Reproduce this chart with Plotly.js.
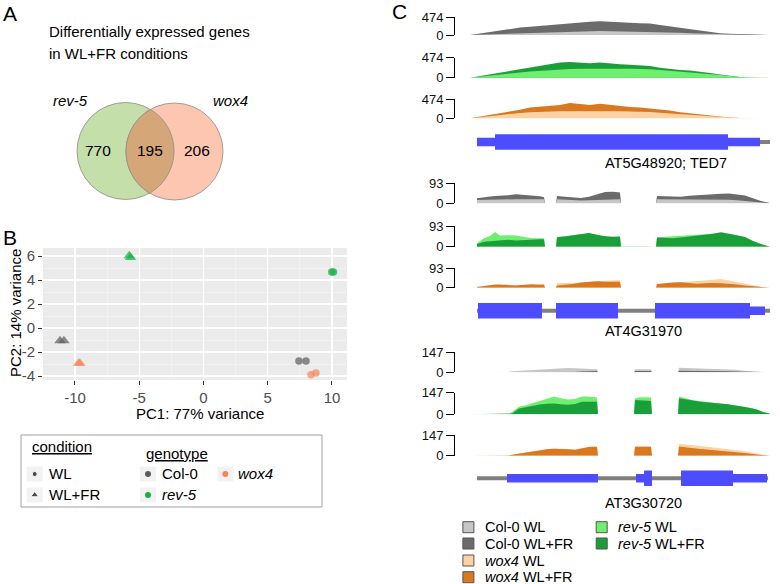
<!DOCTYPE html>
<html><head><meta charset="utf-8">
<script src="https://cdn.plot.ly/plotly-3.0.1.min.js"></script>
<style>html,body{margin:0;padding:0;background:#fff}#chart{width:780px;height:584px}</style>
</head><body><div id="chart"></div>
<script>
// ===== Panel A: Venn diagram =====
const vennSets = ['rev-5', 'wox4'];
const vennCounts = [770, 195, 206]; // rev-5 only, shared, wox4 only
const vennTitle = ['Differentially expressed genes', 'in WL+FR conditions'];

// ===== Panel B: PCA =====
const pcaPC1 = [7.43, 7.98, 9.98, 10.12, 8.37, 8.75, -11.17, -10.86, -5.78, -5.68, -9.72, -9.62];
const pcaPC2 = [-2.75, -2.75, 4.68, 4.68, -3.9, -3.75, -1.06, -1.06, 6.02, 5.88, -2.94, -2.94];
const pcaGenotype = ['Col-0','Col-0','rev-5','rev-5','wox4','wox4','Col-0','Col-0','rev-5','rev-5','wox4','wox4'];
const pcaCondition = ['WL','WL','WL','WL','WL','WL','WL+FR','WL+FR','WL+FR','WL+FR','WL+FR','WL+FR'];
const pcaXTicks = [-10, -5, 0, 5, 10];
const pcaYTicks = [-4, -2, 0, 2, 4, 6];
const conditionLevels = ['WL', 'WL+FR'];
const genotypeLevels = ['Col-0', 'rev-5', 'wox4'];

// ===== Panel C: coverage tracks =====
const seriesNames = ['Col-0 WL', 'Col-0 WL+FR', 'wox4 WL', 'wox4 WL+FR', 'rev-5 WL', 'rev-5 WL+FR'];
const geneNames = ['AT5G48920; TED7', 'AT4G31970', 'AT3G30720'];
const trackMax = [474, 93, 147];

const g1X = [0,10,20,30,40,50,60,70,80,90,100,110,120,130,140,150,160,170,180,190,200,210,220,230,240,250,260,270,280,290,300];
const g1Col0WL = [0,8,16,26,34,40,44,58,74,86,92,96,100,105,100,96,92,90,84,76,68,58,46,36,27,18,12,7,3,0,0];
const g1Col0FR = [0,42,84,120,160,198,218,243,265,290,310,330,352,369,350,338,325,315,305,270,235,200,155,115,80,48,35,22,12,0,0];
const g1Rev5WL = [0,28,52,76,100,124,145,165,185,203,208,212,216,220,218,214,210,206,198,180,162,148,128,108,88,66,40,15,8,3,0];
const g1Rev5FR = [0,40,82,125,160,200,240,290,335,360,372,362,345,362,335,318,305,290,275,235,205,185,170,145,110,75,45,16,6,2,0];
const g1Wox4WL = [0,30,62,92,120,135,150,164,170,174,177,180,183,183,180,176,172,168,155,138,120,102,80,58,38,28,18,10,4,0,0];
const g1Wox4FR = [0,40,80,125,170,215,270,290,310,330,380,350,330,360,330,300,285,270,250,225,195,150,120,90,60,35,18,8,2,0,0];

const g2X = [7,14,20,25,30,38,46,54,62,70,74, 75,86, 87,95,103,111,119,127,135,143,150, 151,163,175,186, 187,195,203,211,219,227,235,243,251,259,267,275,283,291,299, 300];
const g2Col0WL = [15,16,18,18,19,19,19,19,19,19,19, 0,0, 19,17,14,13,14,16,18,19,19, 0,0,0,0, 19,19,19,19,19,19,18,17,16,16,14,10,6,2,0, 0];
const g2Col0FR = [24,30,32,34,35,38,42,40,38,33,28, 0,0, 34,31,27,25,30,40,52,54,50, 0,0,0,0, 34,32,30,31,35,38,40,42,44,45,41,36,23,11,3, 0];
const g2Rev5WL = [16,38,48,66,50,52,50,43,38,38,38, 0,0, 44,48,54,58,60,52,46,44,45, 2,3,2,0, 41,45,47,48,50,51,53,56,60,56,50,42,25,11,1, 0];
const g2Rev5FR = [12,22,25,27,30,31,28,31,34,34,34, 0,0, 42,46,52,58,62,54,47,45,46, 0,1,0,0, 41,38,38,41,45,49,53,58,65,60,52,44,26,12,1, 0];
const g2Wox4WL = [5,9,11,11,11,11,11,12,13,16,19, 0,0, 23,22,22,25,29,31,33,35,37, 0,0,0,0, 16,20,24,27,30,32,35,39,42,35,27,19,11,4,0, 0];
const g2Wox4FR = [3,8,13,15,15,12,11,14,16,14,14, 0,0, 11,14,18,25,28,31,28,27,29, 0,0,0,0, 18,22,25,26,22,19,21,23,21,19,15,11,7,3,0, 0];

const g3X = [0,19,38, 42,49,56,63,70,77,84,91,98,105,112,119,127, 128,140,164, 165,170,175,181, 182,195,208, 209,216,223,230,237,244,251,258,265,272,279,286,293,300];
const g3Col0WL = [0,0.5,3, 8,11,14,17,21,24,29,33,32,29,27,25,23, 1,0.5,0, 23,23,23,23, 0,0,0, 34,32,30,29,28,28,27,24,19,14,10,6,3,0];
const g3Col0FR = [0,0,0, 1,2,2,2,2,2,2,2,3,3,6,9,9, 0,0,0, 10,10,10,10, 0,0,0, 12,12,12,12,12,12,11,8,5,3,2,1,0,0];
const g3Rev5WL = [0,1,1, 16,51,62,76,94,108,121,110,100,104,121,121,114, 1,1,1, 110,116,116,114, 1,1,1, 121,106,96,90,84,80,75,68,60,54,44,34,16,4];
const g3Rev5FR = [0,1,1, 5,40,50,60,67,71,74,68,65,70,86,86,86, 0.5,0.5,0.5, 98,96,93,91, 0.5,0.5,0.5, 110,100,94,86,82,78,75,68,60,54,44,34,16,4];
const g3Wox4WL = [0,0,1, 6,15,25,31,37,47,51,51,48,44,54,64,65, 0,0,0, 65,66,66,65, 0,0,0, 84,80,75,70,64,58,53,48,42,34,26,17,8,0];
const g3Wox4FR = [0,0,1, 6,14,24,30,35,45,49,49,46,42,52,62,63, 0,0,0, 63,64,64,63, 0,0,0, 65,58,52,47,44,40,35,31,26,21,15,9,3,0];

// gene models
const g1Span = [7, 300];
const g1ExonStart = [7, 25, 258];
const g1ExonEnd = [25, 258, 290];
const g1ExonType = ['utr', 'cds', 'utr'];
const g2Span = [7, 300];
const g2ExonStart = [8, 86, 185, 280];
const g2ExonEnd = [72, 148, 280, 295];
const g2ExonType = ['cds', 'cds', 'cds', 'utr'];
const g3Span = [7, 298];
const g3ExonStart = [37, 166, 174, 211, 263];
const g3ExonEnd = [128, 174, 182, 263, 297];
const g3ExonType = ['utr', 'utr', 'cds', 'cds', 'utr'];

// ===== styling =====
const W = 780, H = 584;
const px = x => x / W;
const py = y => 1 - y / H;
const FONT = 'Liberation Sans, Arial, sans-serif';
const genoColor = {'Col-0': '#5c5c5c', 'rev-5': '#13b040', 'wox4': '#f4845a'};
const seriesColor = {'Col-0 WL': '#c6c6c6', 'Col-0 WL+FR': '#6b6b6b', 'wox4 WL': '#fdd3a6', 'wox4 WL+FR': '#d9781f', 'rev-5 WL': '#6ef06e', 'rev-5 WL+FR': '#1a9e3a'};

const data = [];
const shapes = [];
const annotations = [];
const layout = {
  width: W, height: H, margin: {l: 0, r: 0, t: 0, b: 0},
  paper_bgcolor: '#fff', plot_bgcolor: 'rgba(0,0,0,0)',
  showlegend: false, font: {family: FONT, color: '#000'},
  shapes: shapes, annotations: annotations
};
// helper pixel-space axis
layout.xaxis20 = {domain: [0, 1], range: [0, W], visible: false, fixedrange: true, anchor: 'y20'};
layout.yaxis20 = {domain: [0, 1], range: [H, 0], visible: false, fixedrange: true, anchor: 'x20'};
function txt(x, y, text, size, opts) {
  annotations.push(Object.assign({xref: 'x20', yref: 'y20', x: x, y: y, text: text, showarrow: false,
    xanchor: 'left', yanchor: 'middle', font: {size: size, family: FONT, color: '#000'}}, opts || {}));
}

// panel labels
txt(1, 13, 'A', 21);
txt(1, 237, 'B', 21);
txt(390, 11, 'C', 21);

// ===== Panel A =====
txt(47, 31, vennTitle[0], 15);
txt(47, 53, vennTitle[1], 15);
const c1 = {x: 125.5, y: 151, r: 48.5}, c2 = {x: 174.5, y: 151.5, r: 48.5};
shapes.push({type: 'circle', xref: 'x20', yref: 'y20', x0: c1.x - c1.r, x1: c1.x + c1.r, y0: c1.y - c1.r, y1: c1.y + c1.r,
  fillcolor: '#c4dfa9', line: {color: '#8c8c8c', width: 0.8}});
shapes.push({type: 'circle', xref: 'x20', yref: 'y20', x0: c2.x - c2.r, x1: c2.x + c2.r, y0: c2.y - c2.r, y1: c2.y + c2.r,
  fillcolor: '#fcc6b0', line: {color: '#8c8c8c', width: 0.8}});
(function lens() {
  const dx = c2.x - c1.x, dy = c2.y - c1.y, d = Math.hypot(dx, dy);
  const a = (c1.r * c1.r - c2.r * c2.r + d * d) / (2 * d);
  const th = Math.atan2(dy, dx);
  const al1 = Math.acos(a / c1.r), al2 = Math.acos((d - a) / c2.r);
  const pts = [];
  const N = 40;
  for (let i = 0; i <= N; i++) { const t = th - al1 + 2 * al1 * i / N; pts.push([c1.x + c1.r * Math.cos(t), c1.y + c1.r * Math.sin(t)]); }
  for (let i = 0; i <= N; i++) { const t = th + Math.PI - al2 + 2 * al2 * i / N; pts.push([c2.x + c2.r * Math.cos(t), c2.y + c2.r * Math.sin(t)]); }
  const path = 'M' + pts.map(p => p[0].toFixed(2) + ',' + p[1].toFixed(2)).join('L') + 'Z';
  shapes.push({type: 'path', xref: 'x20', yref: 'y20', path: path, fillcolor: '#d5a778', line: {color: '#8c8c8c', width: 0.8}});
})();
txt(70, 100, '<i>' + vennSets[0] + '</i>', 15, {xanchor: 'center'});
txt(230, 100, '<i>' + vennSets[1] + '</i>', 15, {xanchor: 'center'});
txt(98, 150, String(vennCounts[0]), 15.5, {xanchor: 'center'});
txt(150, 150, String(vennCounts[1]), 15.5, {xanchor: 'center'});
txt(197, 150, String(vennCounts[2]), 15.5, {xanchor: 'center'});

// ===== Panel B =====
layout.xaxis = {domain: [px(43), px(347)], range: [-12.49, 11.17], anchor: 'y', fixedrange: true,
  tickmode: 'array', tickvals: pcaXTicks, ticktext: pcaXTicks.map(String),
  ticks: 'outside', ticklen: 4, tickcolor: '#333', tickwidth: 1, tickfont: {size: 15, color: '#4d4d4d', family: FONT},
  showgrid: true, gridcolor: '#fff', gridwidth: 1.1, zeroline: false, showline: false,
  minor: {tickvals: [-7.5, -2.5, 2.5, 7.5], showgrid: true, gridcolor: '#fafafa', gridwidth: 0.5, ticks: ''}};
layout.yaxis = {domain: [py(380), py(248)], range: [-4.33, 6.67], anchor: 'x', fixedrange: true,
  tickmode: 'array', tickvals: pcaYTicks, ticktext: pcaYTicks.map(String),
  ticks: 'outside', ticklen: 4, tickcolor: '#333', tickwidth: 1, tickfont: {size: 15, color: '#4d4d4d', family: FONT},
  showgrid: true, gridcolor: '#fff', gridwidth: 1.1, zeroline: false, showline: false,
  minor: {tickvals: [-3, -1, 1, 3, 5], showgrid: true, gridcolor: '#fafafa', gridwidth: 0.5, ticks: ''}};
shapes.push({type: 'rect', xref: 'x domain', yref: 'y domain', x0: 0, x1: 1, y0: 0, y1: 1, fillcolor: '#ebebeb', line: {width: 0}, layer: 'below'});
data.push({type: 'scatter', mode: 'markers', x: pcaPC1, y: pcaPC2, xaxis: 'x', yaxis: 'y', hoverinfo: 'skip',
  marker: {color: pcaGenotype.map(g => genoColor[g]), symbol: pcaCondition.map(c => c === 'WL' ? 'circle' : 'triangle-up'),
    size: pcaCondition.map(c => c === 'WL' ? 7.5 : 10), line: {width: 0}}});
txt(200, 413, 'PC1: 77% variance', 15, {xanchor: 'center'});
txt(15, 313, 'PC2: 14% variance', 15, {xanchor: 'center', textangle: -90});

// PCA legend
shapes.push({type: 'rect', xref: 'x20', yref: 'y20', x0: 21, x1: 322, y0: 435, y1: 507, line: {color: '#a0a0a0', width: 1}, fillcolor: 'rgba(0,0,0,0)'});
txt(30, 446, 'condition', 15, {font: {size: 15, family: FONT, color: '#000', lineposition: 'under'}});
txt(144, 453, 'genotype', 15, {font: {size: 15, family: FONT, color: '#000', lineposition: 'under'}});
const keyPos = [[34.7, 474], [34.7, 495], [148, 474], [148, 495], [225.3, 474]];
keyPos.forEach(k => shapes.push({type: 'rect', xref: 'x20', yref: 'y20', x0: k[0] - 8, x1: k[0] + 8, y0: k[1] - 7.5, y1: k[1] + 7.5, fillcolor: '#f2f2f2', line: {width: 0}, layer: 'below'}));
data.push({type: 'scatter', mode: 'markers', xaxis: 'x20', yaxis: 'y20', hoverinfo: 'skip',
  x: [keyPos[0][0], keyPos[1][0]], y: [keyPos[0][1], keyPos[1][1]],
  marker: {color: '#000', symbol: conditionLevels.map(c => c === 'WL' ? 'circle' : 'triangle-up'), size: [5, 7]}});
data.push({type: 'scatter', mode: 'markers', xaxis: 'x20', yaxis: 'y20', hoverinfo: 'skip',
  x: [keyPos[2][0], keyPos[3][0], keyPos[4][0]], y: [keyPos[2][1], keyPos[3][1], keyPos[4][1]],
  marker: {color: genotypeLevels.map(g => genoColor[g]), symbol: 'circle', size: 6}});
txt(47, 473, conditionLevels[0], 15);
txt(47, 494, conditionLevels[1], 15);
txt(160, 473, genotypeLevels[0], 15);
txt(160, 494, '<i>' + genotypeLevels[1] + '</i>', 15);
txt(236, 473, '<i>' + genotypeLevels[2] + '</i>', 15);

// ===== Panel C =====
const genes = [
  {x: g1X, tracks: [['Col-0', g1Col0WL, g1Col0FR], ['rev-5', g1Rev5WL, g1Rev5FR], ['wox4', g1Wox4WL, g1Wox4FR]],
   span: g1Span, es: g1ExonStart, ee: g1ExonEnd, et: g1ExonType},
  {x: g2X, tracks: [['Col-0', g2Col0WL, g2Col0FR], ['rev-5', g2Rev5WL, g2Rev5FR], ['wox4', g2Wox4WL, g2Wox4FR]],
   span: g2Span, es: g2ExonStart, ee: g2ExonEnd, et: g2ExonType},
  {x: g3X, tracks: [['Col-0', g3Col0WL, g3Col0FR], ['rev-5', g3Rev5WL, g3Rev5FR], ['wox4', g3Wox4WL, g3Wox4FR]],
   span: g3Span, es: g3ExonStart, ee: g3ExonEnd, et: g3ExonType}
];
const trackPx = [
  [[17.3, 35], [57.7, 77.7], [99.3, 118.3]],
  [[183.3, 203.3], [226, 246.7], [268.3, 287.7]],
  [[352.3, 372.3], [392.7, 414.3], [435, 455.7]]
];
const modelPx = [142, 310.8, 478.2];
const labelPx = [163, 331, 503];
const sum = a => a.reduce((s, v) => s + v, 0);

genes.forEach((g, gi) => {
  const xa = 'x' + (gi + 2);
  const modelIdx = 2 + gi * 4 + 3;
  layout['xaxis' + (gi + 2)] = {domain: [px(470), px(770)], range: [0, 300], visible: false, fixedrange: true, anchor: 'y' + modelIdx};
  g.tracks.forEach((tr, ti) => {
    const yi = 2 + gi * 4 + ti;
    const [top, bot] = trackPx[gi][ti];
    const mx = trackMax[gi];
    layout['yaxis' + yi] = {domain: [py(bot), py(top)], range: [0, mx], anchor: 'free', position: px(454), fixedrange: true,
      tickmode: 'array', tickvals: [0, mx], ticktext: ['0', String(mx)], ticks: 'outside', ticklen: 8, tickwidth: 1, tickcolor: '#000',
      showline: true, linecolor: '#000', linewidth: 1, showgrid: false, zeroline: false,
      tickfont: {size: 13, color: '#111', family: FONT}};
    const geno = tr[0];
    const series = [{name: geno + ' WL', y: tr[1]}, {name: geno + ' WL+FR', y: tr[2]}];
    series.sort((a, b) => sum(b.y) - sum(a.y)); // higher coverage drawn behind
    series.forEach(s => data.push({type: 'scatter', mode: 'lines', x: g.x, y: s.y, xaxis: xa, yaxis: 'y' + yi,
      fill: 'tozeroy', fillcolor: seriesColor[s.name], line: {width: 0, color: seriesColor[s.name]}, hoverinfo: 'skip'}));
  });
  const c = modelPx[gi];
  layout['yaxis' + modelIdx] = {domain: [py(c + 10), py(c - 10)], range: [-1, 1], visible: false, fixedrange: true, anchor: xa};
  data.push({type: 'scatter', mode: 'lines', x: g.span, y: [0, 0], xaxis: xa, yaxis: 'y' + modelIdx,
    line: {color: '#7f7f7f', width: 4}, hoverinfo: 'skip'});
  const ex = [], ey = [];
  g.es.forEach((s, i) => {
    const h = g.et[i] === 'cds' ? 0.78 : 0.42;
    ex.push(s, g.ee[i], g.ee[i], s, s, null);
    ey.push(-h, -h, h, h, -h, null);
  });
  data.push({type: 'scatter', mode: 'lines', x: ex, y: ey, xaxis: xa, yaxis: 'y' + modelIdx, fill: 'toself',
    fillcolor: '#4d4dff', line: {width: 0, color: '#4d4dff'}, hoverinfo: 'skip'});
  txt(603, labelPx[gi], geneNames[gi], 14.5);
});

// coverage legend
const legPos = [[468.4, 527.2], [468.4, 543.5], [468.4, 560.5], [468.4, 577.2], [601.7, 527.2], [601.7, 543.5]];
data.push({type: 'scatter', mode: 'markers', xaxis: 'x20', yaxis: 'y20', hoverinfo: 'skip',
  x: legPos.map(p => p[0]), y: legPos.map(p => p[1]),
  marker: {symbol: 'square', size: 11, color: seriesNames.map(n => seriesColor[n]), line: {color: '#555', width: 1}}});
seriesNames.forEach((n, i) => {
  const parts = n.split(' ');
  const label = parts[0] === 'Col-0' ? n : '<i>' + parts[0] + '</i> ' + parts.slice(1).join(' ');
  txt(legPos[i][0] + 14.5, legPos[i][1], label, 14.5);
});

Plotly.newPlot('chart', data, layout, {staticPlot: true});
</script>
</body></html>
